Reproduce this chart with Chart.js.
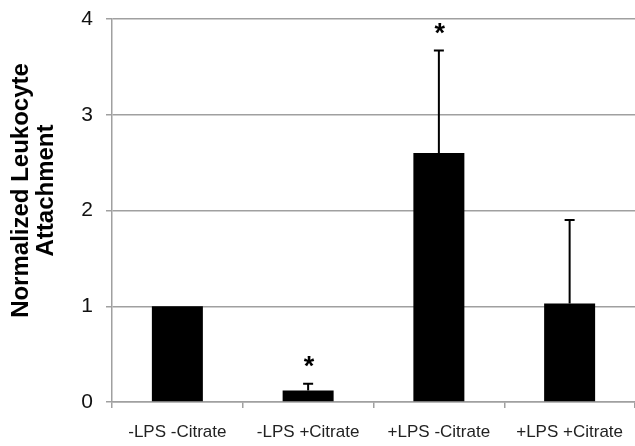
<!DOCTYPE html>
<html>
<head>
<meta charset="utf-8">
<script src="https://cdn.jsdelivr.net/npm/chart.js@4.4.1/dist/chart.umd.min.js"></script>
<style>
  html, body { margin: 0; padding: 0; background: #fff; }
  #wrap { width: 635px; height: 446px; }
</style>
</head>
<body>
<div id="wrap"><canvas id="c" width="635" height="446"></canvas></div>
<script>
// Groups, mean attachment and upper error bound (mean + SD)
const categories = ['-LPS -Citrate', '-LPS +Citrate', '+LPS -Citrate', '+LPS +Citrate'];
const means = [1.0, 0.12, 2.6, 1.03];
const errorTops = [1.0, 0.19, 3.67, 1.9];
const significant = [false, true, true, false];
const yTicks = [0, 1, 2, 3, 4];
const yTitleLines = ['Normalized Leukocyte', 'Attachment'];

const gridGray = '#a0a0a0';
const fontFamily = '"Liberation Sans", Arial, sans-serif';

// Draws one-sided error whiskers and significance stars
const errorBarPlugin = {
  id: 'errorBars',
  afterDatasetsDraw(chart) {
    const ctx = chart.ctx;
    const meta = chart.getDatasetMeta(0);
    const y = chart.scales.y;
    ctx.save();
    meta.data.forEach((bar, i) => {
      const x = bar.x;
      const yTop = y.getPixelForValue(errorTops[i]);
      const yMean = y.getPixelForValue(means[i]);
      if (errorTops[i] > means[i]) {
        ctx.strokeStyle = '#000';
        ctx.lineWidth = 2;
        ctx.beginPath();
        ctx.moveTo(x, yMean);
        ctx.lineTo(x, yTop);
        ctx.moveTo(x - 5, yTop);
        ctx.lineTo(x + 5, yTop);
        ctx.stroke();
      }
      if (significant[i]) {
        ctx.fillStyle = '#000';
        ctx.font = 'bold 27px ' + fontFamily;
        ctx.textAlign = 'center';
        ctx.textBaseline = 'middle';
        ctx.fillText('*', x + 1, yTop - 16);
      }
    });
    ctx.restore();
  }
};

// Two-line rotated y-axis title, set a little above the plot's middle
const yTitlePlugin = {
  id: 'yTitle',
  afterDraw(chart) {
    const ctx = chart.ctx;
    const area = chart.chartArea;
    const cy = (area.top + area.bottom) / 2 - 20;
    ctx.save();
    ctx.fillStyle = '#000';
    ctx.font = 'bold 24px ' + fontFamily;
    ctx.textAlign = 'center';
    ctx.textBaseline = 'middle';
    const xs = [21, 46];
    yTitleLines.forEach((line, i) => {
      ctx.save();
      ctx.translate(xs[i], cy);
      ctx.rotate(-Math.PI / 2);
      ctx.fillText(line, 0, 0);
      ctx.restore();
    });
    ctx.restore();
  }
};

new Chart(document.getElementById('c'), {
  type: 'bar',
  data: {
    labels: categories,
    datasets: [{
      data: means,
      backgroundColor: '#000',
      borderWidth: 0,
      categoryPercentage: 1.0,
      barPercentage: 0.39
    }]
  },
  options: {
    responsive: false,
    animation: false,
    layout: { padding: { top: 19, right: 0, bottom: 0, left: 0 } },
    plugins: { legend: { display: false }, tooltip: { enabled: false } },
    scales: {
      x: {
        offset: true,
        grid: {
          offset: true,
          drawOnChartArea: false,
          drawTicks: true,
          tickLength: 6,
          color: gridGray,
          lineWidth: 1.5
        },
        border: { display: true, color: gridGray, width: 1.5 },
        ticks: {
          color: '#222',
          padding: 14,
          font: { family: fontFamily, size: 17 },
          maxRotation: 0,
          autoSkip: false
        },
        afterFit(scale) { scale.height = 44; scale.paddingLeft = 0; scale.paddingRight = 0; }
      },
      y: {
        min: 0,
        max: 4,
        afterBuildTicks(scale) { scale.ticks = yTicks.map(v => ({ value: v })); },
        grid: {
          color: gridGray,
          lineWidth: 1.5,
          drawTicks: true,
          tickLength: 6
        },
        border: { display: true, color: gridGray, width: 1.5 },
        ticks: {
          color: '#111',
          padding: 13,
          font: { family: fontFamily, size: 21 }
        },
        title: { display: false },
        afterFit(scale) { scale.width = 112; scale.paddingTop = 0; scale.paddingBottom = 0; }
      }
    }
  },
  plugins: [errorBarPlugin, yTitlePlugin]
});
</script>
</body>
</html>
